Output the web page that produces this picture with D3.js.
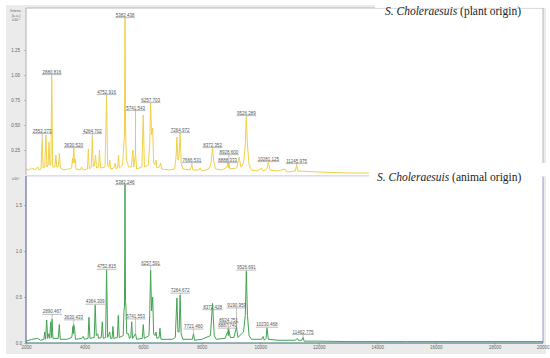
<!DOCTYPE html>
<html>
<head>
<meta charset="utf-8">
<script src="https://cdn.jsdelivr.net/npm/d3@7"></script>
<style>
  body { margin: 0; background: #fff; }
  svg { display: block; }
</style>
</head>
<body>
<div id="chart"></div>
<script>
// spectrum traces: [m/z, intensity (x10^4 a.u.)]
const plantTrace = [
  [2000,0.06],[2100,0.05],[2200,0.07],[2300,0.05],[2400,0.08],[2450,0.05],[2515,0.06],[2552,0.36],[2585,0.07],
  [2640,0.08],[2680,0.40],[2715,0.08],[2755,0.10],[2785,0.33],[2815,0.10],[2850,0.10],[2880,0.98],[2912,0.08],
  [2990,0.08],[3020,0.20],[3050,0.08],[3110,0.09],[3140,0.22],[3175,0.07],[3300,0.05],[3450,0.06],[3560,0.07],
  [3590,0.17],[3610,0.12],[3632,0.27],[3660,0.12],[3680,0.16],[3710,0.06],[3850,0.05],[3900,0.08],[3950,0.05],
  [4100,0.06],[4130,0.26],[4165,0.06],[4230,0.08],[4264,0.37],[4300,0.08],[4340,0.10],[4375,0.20],[4410,0.07],
  [4480,0.08],[4510,0.25],[4545,0.07],[4700,0.08],[4752,0.78],[4790,0.10],[4830,0.08],[4860,0.15],[4890,0.06],
  [5000,0.07],[5050,0.12],[5080,0.06],[5130,0.08],[5160,0.20],[5190,0.07],[5300,0.10],[5340,0.30],[5362,0.40],
  [5382,1.57],[5402,0.45],[5430,0.15],[5470,0.12],[5500,0.08],[5600,0.08],[5650,0.25],[5680,0.08],[5741,0.22],
  [5780,0.06],[5960,0.08],[6005,0.60],[6045,0.08],[6180,0.10],[6225,0.30],[6257,0.72],[6290,0.40],[6327,0.47],
  [6360,0.12],[6400,0.10],[6440,0.15],[6470,0.07],[6560,0.08],[6600,0.12],[6630,0.06],[6900,0.05],[7080,0.06],
  [7130,0.20],[7155,0.38],[7190,0.15],[7230,0.20],[7264,0.42],[7300,0.12],[7360,0.06],[7600,0.05],[7666,0.10],
  [7700,0.05],[7900,0.05],[7950,0.07],[8000,0.04],[8250,0.06],[8320,0.12],[8372,0.27],[8420,0.12],[8480,0.06],
  [8700,0.05],[8860,0.08],[8888,0.10],[8910,0.07],[8928,0.12],[8960,0.06],[9200,0.07],[9280,0.18],[9340,0.08],
  [9430,0.12],[9490,0.30],[9526,0.57],[9565,0.30],[9620,0.10],[9700,0.05],[9900,0.04],[10050,0.07],[10100,0.04],
  [10230,0.06],[10281,0.13],[10330,0.05],[10600,0.04],[10845,0.06],[10900,0.03],[11200,0.04],[11245,0.10],
  [11290,0.04],[12000,0.03],[13000,0.02],[14000,0.02],[16000,0.02],[19660,0.02]
];
const animalTrace = [
  [2000,0.02],[2200,0.04],[2400,0.05],[2500,0.03],[2610,0.04],[2640,0.12],[2670,0.04],[2707,0.25],[2740,0.05],
  [2780,0.10],[2810,0.05],[2844,0.23],[2870,0.06],[2890,0.26],[2920,0.05],[3100,0.05],[3137,0.20],[3170,0.04],
  [3400,0.04],[3560,0.06],[3580,0.10],[3600,0.18],[3615,0.10],[3630,0.20],[3660,0.15],[3690,0.04],[3900,0.05],
  [3950,0.07],[4000,0.04],[4120,0.05],[4150,0.28],[4185,0.05],[4330,0.06],[4364,0.41],[4400,0.08],[4450,0.10],
  [4480,0.05],[4570,0.06],[4606,0.23],[4640,0.05],[4720,0.06],[4752,0.79],[4790,0.06],[4860,0.12],[4890,0.05],
  [4940,0.05],[4971,0.18],[5000,0.05],[5120,0.06],[5152,0.30],[5185,0.06],[5320,0.08],[5347,0.35],[5365,0.40],
  [5382,1.72],[5400,0.45],[5415,0.39],[5440,0.10],[5500,0.10],[5530,0.05],[5580,0.06],[5610,0.23],[5640,0.05],
  [5741,0.10],[5780,0.04],[5970,0.05],[6006,0.20],[6040,0.05],[6200,0.08],[6225,0.30],[6257,0.79],[6290,0.35],
  [6327,0.50],[6360,0.10],[6410,0.08],[6440,0.12],[6470,0.05],[6545,0.06],[6576,0.16],[6610,0.04],[7000,0.04],
  [7100,0.06],[7155,0.49],[7190,0.12],[7230,0.12],[7264,0.52],[7300,0.10],[7360,0.04],[7680,0.04],[7721,0.10],
  [7760,0.03],[8000,0.04],[8300,0.08],[8372,0.43],[8430,0.08],[8500,0.04],[8800,0.05],[8860,0.10],[8888,0.12],
  [8910,0.08],[8924,0.15],[8980,0.06],[9100,0.06],[9190,0.17],[9240,0.06],[9430,0.12],[9490,0.30],[9526,0.78],
  [9565,0.30],[9620,0.08],[9700,0.04],[10050,0.04],[10100,0.07],[10140,0.03],[10200,0.05],[10230,0.16],
  [10280,0.04],[10600,0.03],[11200,0.03],[11260,0.05],[11300,0.03],[11420,0.03],[11462,0.06],[11500,0.02],
  [12000,0.02],[13000,0.015],[15000,0.015],[19660,0.015]
];

// peak labels and the level (intensity units) where each label sits
const plantLabels = ["2552.273","2880.816","3630.520","4264.702","4752.916","5382.438","5741.543","6257.703",
  "7264.972","7666.531","8372.352","8928.600","8888.333","9526.289","10281.125","11245.975"];
const plantLevels = [0.44,1.03,0.30,0.44,0.83,1.60,0.67,0.75,0.45,0.15,0.30,0.23,0.15,0.62,0.16,0.14];
const animalLabels = ["2890.467","3630.433","4364.309","4752.815","5382.246","5741.553","6257.591","7264.672",
  "7721.460","8372.428","9190.959","8924.751","8887.743","9526.691","10230.468","11462.775"];
const animalLevels = [0.34,0.28,0.45,0.83,1.75,0.29,0.87,0.57,0.18,0.39,0.41,0.25,0.19,0.82,0.20,0.12];

const plantTicks = [0.25, 0.5, 0.75, 1.0, 1.25];
const animalTicks = [0, 0.5, 1.0, 1.5];
const mzTicks = [2000,4000,6000,8000,10000,12000,14000,16000,18000,20000];

const WIDTH = 550, HEIGHT = 358;
const PLOT = { LEFT: 26, RIGHT: 543 };

const svg = d3.select("#chart").append("svg")
  .attr("width", WIDTH)
  .attr("height", HEIGHT)
  .style("font-family", "'Liberation Sans', Arial, sans-serif");

// grey window of the spectrum viewer
svg.append("rect")
  .attr("x", 6).attr("y", 5).attr("width", 540).attr("height", 349)
  .attr("fill", "#ebebeb");

const x = d3.scaleLinear().domain([2000, 19660]).range([PLOT.LEFT, PLOT.RIGHT]);

const panels = [
  { name: "plant", trace: plantTrace, labels: plantLabels, levels: plantLevels, ticks: plantTicks,
    fmt: d3.format(".2f"), top: 8, bottom: 175, max: 1.67, color: "#f2d046", pad: 4,
    frame: "#a8a8a8", axis: "#a8a8a8" },
  { name: "animal", trace: animalTrace, labels: animalLabels, levels: animalLevels, ticks: animalTicks,
    fmt: d3.format(".1f"), top: 176, bottom: 343, max: 1.815, color: "#43a352", pad: 2,
    frame: "#8080c0", axis: "#3c3c8c" }
];

panels.forEach(p => {
  const y = d3.scaleLinear().domain([0, p.max]).range([p.bottom, p.top]);

  svg.append("rect")
    .attr("x", PLOT.LEFT).attr("y", p.top)
    .attr("width", PLOT.RIGHT - PLOT.LEFT).attr("height", p.bottom - p.top)
    .attr("fill", "#fff");

  svg.append("clipPath").attr("id", "clip-" + p.name)
    .append("rect")
    .attr("x", PLOT.LEFT).attr("y", p.top - 2)
    .attr("width", PLOT.RIGHT - PLOT.LEFT).attr("height", p.bottom - p.top + 2);

  const yAxis = d3.axisLeft(y).tickValues(p.ticks).tickFormat(p.fmt).tickSize(2).tickPadding(p.pad);
  const ya = svg.append("g")
    .attr("transform", `translate(${PLOT.LEFT},0)`)
    .call(yAxis);
  ya.select(".domain").remove();
  ya.selectAll("line").attr("stroke", "#888").attr("stroke-width", 0.5);
  ya.selectAll("text").attr("fill", "#666").style("font-size", "4.5px");

  // spectrum
  const line = d3.line().x(d => x(d[0])).y(d => y(d[1]));
  svg.append("path")
    .datum(p.trace)
    .attr("clip-path", `url(#clip-${p.name})`)
    .attr("d", line)
    .attr("fill", "none")
    .attr("stroke", p.color)
    .attr("stroke-width", 1)
    .attr("stroke-linejoin", "round");

  // peak labels with leader lines
  const g = svg.append("g").attr("clip-path", `url(#clip-${p.name})`);
  p.labels.forEach((txt, i) => {
    const mz = +txt;
    const cx = x(mz);
    const cy = y(p.levels[i]);
    const nearest = p.trace.reduce((a, b) => Math.abs(b[0] - mz) < Math.abs(a[0] - mz) ? b : a);
    const t = g.append("text")
      .attr("x", cx).attr("y", cy + 1.6)
      .attr("text-anchor", "middle")
      .attr("fill", "#555")
      .style("font-size", "4.5px")
      .text(txt);
    const w = t.node().getComputedTextLength();
    g.append("line")
      .attr("x1", cx - w / 2 - 0.5).attr("x2", cx + w / 2 + 0.5)
      .attr("y1", cy + 2.6).attr("y2", cy + 2.6)
      .attr("stroke", "#777").attr("stroke-width", 0.5);
    const peakY = y(nearest[1]);
    if (peakY > cy + 3.5) {
      g.append("line")
        .attr("x1", cx).attr("x2", cx)
        .attr("y1", cy + 2.6).attr("y2", peakY)
        .attr("stroke", "#888").attr("stroke-width", 0.5);
    }
  });

  // frame
  svg.append("line").attr("x1", PLOT.LEFT).attr("x2", PLOT.RIGHT).attr("y1", p.top).attr("y2", p.top)
    .attr("stroke", p.name === "plant" ? "#a8a8a8" : "#c8c8e0").attr("stroke-width", 0.8);
  svg.append("line").attr("x1", PLOT.RIGHT).attr("x2", PLOT.RIGHT).attr("y1", p.top).attr("y2", p.bottom)
    .attr("stroke", p.frame).attr("stroke-width", 0.8);
  svg.append("line").attr("x1", PLOT.LEFT).attr("x2", PLOT.LEFT).attr("y1", p.top).attr("y2", p.bottom)
    .attr("stroke", p.axis).attr("stroke-width", 0.9);
});

// bottom m/z axis
const xAxis = d3.axisBottom(x).tickValues(mzTicks).tickFormat(d3.format("d")).tickSize(2).tickPadding(1);
const xa = svg.append("g")
  .attr("transform", "translate(0,343)")
  .call(xAxis);
xa.select(".domain").remove();
xa.selectAll("line").attr("stroke", "#888").attr("stroke-width", 0.5);
xa.selectAll("text").attr("fill", "#666").style("font-size", "4.5px");
// the last label runs into the window edge: keep it inside
xa.selectAll(".tick").filter(d => d === 20000).select("text")
  .attr("text-anchor", "end")
  .attr("x", WIDTH - 1 - x(20000));
svg.append("line").attr("x1", PLOT.LEFT).attr("x2", PLOT.RIGHT).attr("y1", 343).attr("y2", 343)
  .attr("stroke", "#2f6f73").attr("stroke-width", 1);

// axis captions in the corner
const cap = svg.append("g").attr("fill", "#666").style("font-size", "3.8px").attr("text-anchor", "middle");
cap.append("text").attr("x", 16).attr("y", 12).text("Intens.");
cap.append("text").attr("x", 16).attr("y", 16.5).text("[a.u.]");
cap.append("text").attr("x", 16).attr("y", 21).text("x10\u2074");
cap.append("text").attr("x", 16).attr("y", 180).text("x10\u2074");

// sample names pasted over the right side
svg.append("rect").attr("x", 375).attr("y", 0).attr("width", 171).attr("height", 7.9).attr("fill", "#fff");
svg.append("rect").attr("x", 369).attr("y", 163).attr("width", 177).attr("height", 13.5).attr("fill", "#fff");
svg.append("rect").attr("x", 369).attr("y", 176).attr("width", 171).attr("height", 9).attr("fill", "#fff");

const names = [
  { y: 14.5, x: 385, origin: " (plant origin)" },
  { y: 180.7, x: 377, origin: " (animal origin)" }
];
names.forEach(n => {
  const t = svg.append("text")
    .attr("x", n.x).attr("y", n.y)
    .attr("fill", "#222")
    .style("font-family", "'Liberation Serif', 'DejaVu Serif', serif")
    .style("font-size", "11.5px");
  t.append("tspan").style("font-style", "italic").text("S. Choleraesuis");
  t.append("tspan").text(n.origin);
});
</script>
</body>
</html>
